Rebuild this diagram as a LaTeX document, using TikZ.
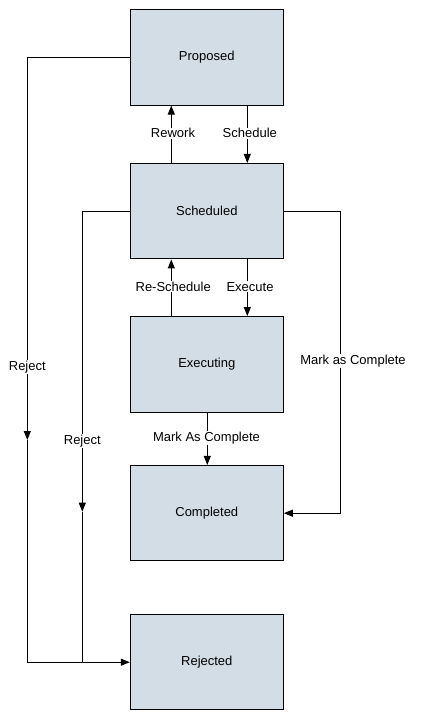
\documentclass[tikz,border=0pt]{standalone}
\usepackage{fontspec}
\setmainfont{Liberation Sans}
\usetikzlibrary{arrows.meta}
\definecolor{boxfill}{HTML}{D3DDE6}
\tikzset{
  state/.style={draw=black, line width=1pt, fill=boxfill, minimum width=153pt, minimum height=95.5pt, inner sep=0pt, font=\fontsize{13}{15}\selectfont},
  conn/.style={draw=black, line width=1pt},
  arr/.style={conn, -{Triangle[length=9pt,width=7pt]}},
  lbl/.style={fill=white, inner sep=1pt, font=\fontsize{13}{15}\selectfont}
}
\begin{document}
\begin{tikzpicture}[x=1pt,y=-1pt]
\useasboundingbox (0,0) rectangle (422,728);
\node[state] (Proposed) at (206.8,57.3) {Proposed};
\node[state] (Scheduled) at (206.8,211.2) {Scheduled};
\node[state] (Executing) at (206.8,364.3) {Executing};
\node[state] (Completed) at (206.8,513.2) {Completed};
\node[state] (Rejected) at (206.8,662.2) {Rejected};

\coordinate (xa) at (171.3,0);
\coordinate (xb) at (247.3,0);
\coordinate (xc) at (207.3,0);
\coordinate (xL) at (27.3,0);
\coordinate (xM) at (82.3,0);
\coordinate (xR) at (340.3,0);
\coordinate (mL) at (27.3,440);
\coordinate (mM) at (82.3,511.7);
\coordinate (jL) at (27.3,662.2);
\coordinate (jM) at (82.3,662.2);

% Rework / Schedule
\draw[arr] (Scheduled.north -| xa) -- (Proposed.south -| xa);
\node[lbl] (lRework) at (173,133.3) {Rework};
\draw[arr] (Proposed.south -| xb) -- (Scheduled.north -| xb);
\node[lbl] (lSchedule) at (249.8,133.3) {Schedule};

% Re-Schedule / Execute
\draw[arr] (Executing.north -| xa) -- (Scheduled.south -| xa);
\node[lbl] (lReSchedule) at (173.2,286.7) {Re-Schedule};
\draw[arr] (Scheduled.south -| xb) -- (Executing.north -| xb);
\node[lbl] (lExecute) at (250,286.7) {Execute};

% Mark As Complete
\draw[arr] (Executing.south -| xc) -- (Completed.north -| xc);
\node[lbl] (lMAC) at (206.5,438.3) {Mark As Complete};

% Mark as Complete (right)
\draw[arr] (Scheduled.east) -- (Scheduled.east -| xR) -- (Completed.east -| xR) -- (Completed.east);
\node[lbl] (lMaC) at (353,361) {Mark as Complete};

% Reject (left, from Proposed)
\draw[arr] (Proposed.west) -- (Proposed.west -| xL) -- (mL);
\draw[conn] (mL) -- (jL);
\draw[arr] (jL) -- (Rejected.west);
\node[lbl] (lReject1) at (27.3,366.7) {Reject};

% Reject (from Scheduled)
\draw[arr] (Scheduled.west) -- (Scheduled.west -| xM) -- (mM);
\draw[conn] (mM) -- (jM);
\node[lbl] (lReject2) at (82.3,441) {Reject};
\end{tikzpicture}
\end{document}
